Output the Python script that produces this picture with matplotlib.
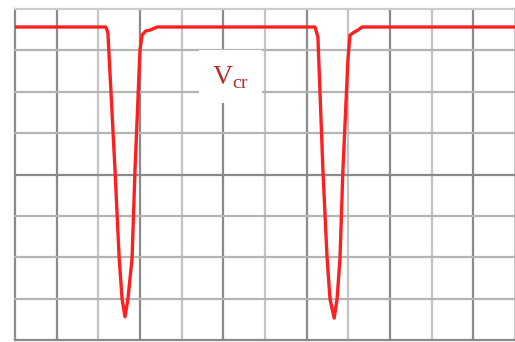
import matplotlib
matplotlib.use("Agg")
import matplotlib.pyplot as plt

# Waveform samples (time in divisions, amplitude in divisions)
t_values = [0.0, 2.18, 2.23, 2.40, 2.50, 2.57, 2.64, 2.71, 2.81, 2.88, 3.00, 3.05,
            3.14, 3.24, 3.41,
            7.20, 7.27, 7.39, 7.49, 7.56, 7.66, 7.73, 7.80, 7.87, 7.99, 8.04,
            8.14, 8.23, 8.33, 12.0]
v_values = [7.565, 7.565, 7.42, 4.11, 1.98, 0.99, 0.56, 0.99, 1.98, 4.11, 7.01, 7.37,
            7.47, 7.49, 7.565,
            7.565, 7.32, 4.11, 1.98, 0.99, 0.53, 0.99, 1.98, 4.11, 6.77, 7.37,
            7.44, 7.49, 7.565, 7.565]

# Graticule: 12 horizontal by 8 vertical divisions
x_grid = list(range(13))
y_grid = list(range(9))
x_dark = [0, 1, 3, 5, 7, 9, 11]
y_dark = [0, 4]

label_text = r"$\mathrm{V}_{\mathrm{cr}}$"

plt.rcParams["mathtext.fontset"] = "custom"
plt.rcParams["mathtext.rm"] = "Liberation Serif"

fig = plt.figure(figsize=(5.15, 3.42), dpi=100)
ax = fig.add_axes([15 / 515, 2 / 342, 500 / 515, 331 / 342])
ax.set_xlim(0, 12)
ax.set_ylim(0, 8)
for s in ax.spines.values():
    s.set_visible(False)
ax.set_xticks([])
ax.set_yticks([])

for x in x_grid:
    col = "#8a8a8a" if x in x_dark else "#c4c4c4"
    ax.axvline(x, color=col, lw=1.6, zorder=1, clip_on=False)
for y in y_grid:
    col = "#8a8a8a" if y in y_dark else "#b4b4b4"
    if y == 8:
        col = "#cccccc"
    ax.axhline(y, color=col, lw=1.6, zorder=1, clip_on=False)

ax.plot(t_values, v_values, color="#ff1f1f", lw=2.4, zorder=3,
        solid_joinstyle="round", solid_capstyle="round")

ax.text(5.17, 6.36, label_text, fontsize=20, color="#b52a2a",
        ha="center", va="center", zorder=2,
        bbox=dict(boxstyle="square,pad=0.45", fc="white", ec="none"))

fig.savefig("out.png", dpi=100, facecolor="white")
